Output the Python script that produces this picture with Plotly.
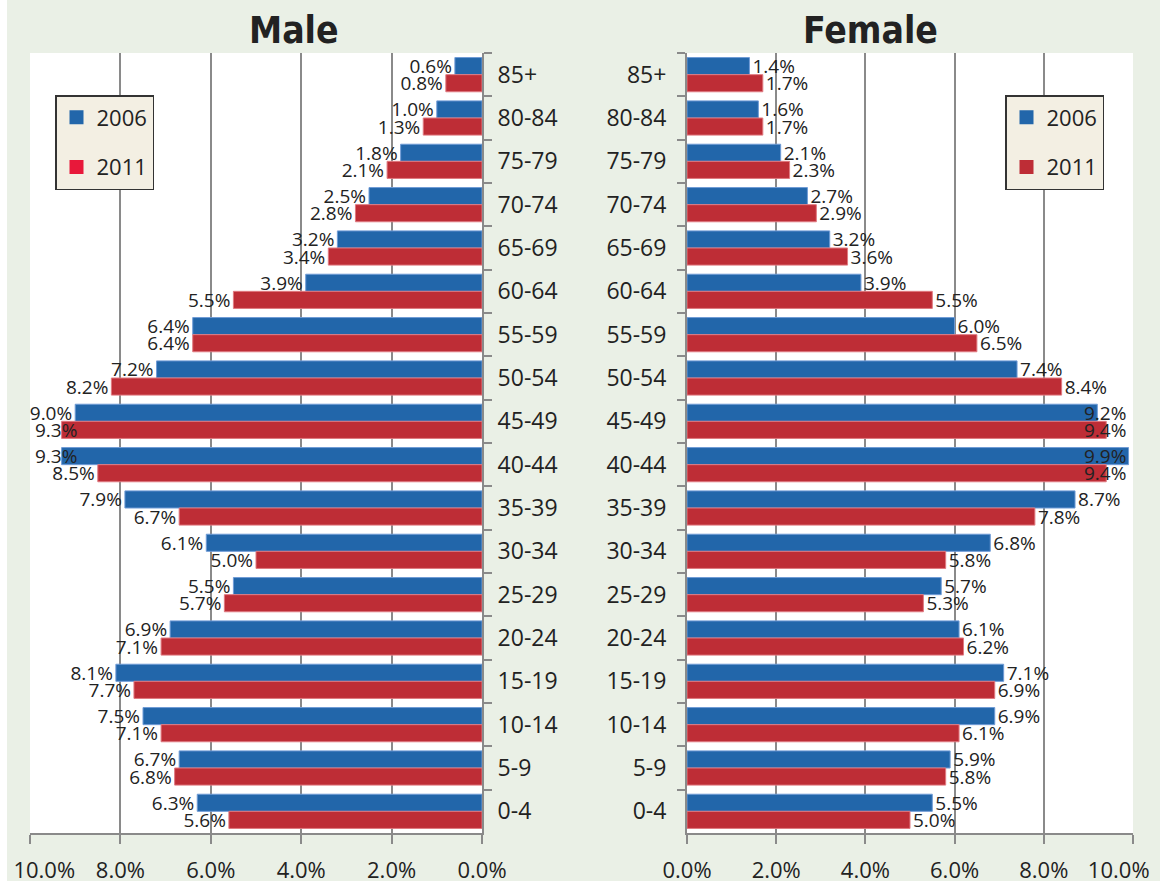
import plotly.graph_objects as go

# ---- data ----
age_groups = ["85+", "80-84", "75-79", "70-74", "65-69", "60-64", "55-59", "50-54",
              "45-49", "40-44", "35-39", "30-34", "25-29", "20-24", "15-19", "10-14",
              "5-9", "0-4"]
male_2006 = [0.6, 1.0, 1.8, 2.5, 3.2, 3.9, 6.4, 7.2, 9.0, 9.3, 7.9, 6.1, 5.5, 6.9, 8.1, 7.5, 6.7, 6.3]
male_2011 = [0.8, 1.3, 2.1, 2.8, 3.4, 5.5, 6.4, 8.2, 9.3, 8.5, 6.7, 5.0, 5.7, 7.1, 7.7, 7.1, 6.8, 5.6]
female_2006 = [1.4, 1.6, 2.1, 2.7, 3.2, 3.9, 6.0, 7.4, 9.2, 9.9, 8.7, 6.8, 5.7, 6.1, 7.1, 6.9, 5.9, 5.5]
female_2011 = [1.7, 1.7, 2.3, 2.9, 3.6, 5.5, 6.5, 8.4, 9.4, 9.4, 7.8, 5.8, 5.3, 6.2, 6.9, 6.1, 5.8, 5.0]
years = ["2006", "2011"]
x_ticks = [0, 2, 4, 6, 8, 10]
x_max = 10

# ---- style ----
BLUE = "#2266aa"
RED = "#be2d36"
RED_BRIGHT = "#e8183a"
BLUE_EDGE = "#6f9bd6"
RED_EDGE = "#e07a80"
GRID = "#8a8a8a"
TEXT = "#222222"
BG = "#eaf0e6"
FONT = "Open Sans"
TITLE_FONT = "Liberation Sans Narrow, DejaVu Sans Condensed"
CLAMP = 9.05
NB = "\u00a0" * 5  # keeps the outermost tick label inside the chart edge

W, H = 1160, 881
def px_x(p): return p / W
def px_y(p): return (H - p) / H

ydom = [px_y(833), px_y(53)]

fig = go.Figure()

def labels(vals):
    return [("" if v > CLAMP else f"{v:.1f}%") for v in vals]

series = [
    (male_2006, "x", "y", BLUE, BLUE_EDGE),
    (male_2011, "x", "y", RED, RED_EDGE),
    (female_2006, "x2", "y2", BLUE, BLUE_EDGE),
    (female_2011, "x2", "y2", RED, RED_EDGE),
]
for i, (vals, xa, ya, col, edge) in enumerate(series):
    fig.add_trace(go.Bar(
        y=age_groups, x=vals, orientation="h", xaxis=xa, yaxis=ya,
        marker=dict(color=col, line=dict(color=edge, width=1)),
        text=labels(vals), textposition="outside", constraintext="none",
        outsidetextfont=dict(family=FONT, size=19, color=TEXT),
        cliponaxis=False, showlegend=False, hoverinfo="skip",
        offsetgroup=str(i % 2),
    ))

# clamped labels (too long to fit outside the bar) pinned to the axis edge
annotations = []
for vals, xa, ya, shift in [(male_2006, "x", "y", 8.5), (male_2011, "x", "y", -8.5),
                            (female_2006, "x2", "y2", 8.5), (female_2011, "x2", "y2", -8.5)]:
    for g, v in zip(age_groups, vals):
        if v > CLAMP:
            annotations.append(dict(
                x=x_max, y=g, xref=xa, yref=ya, text=f"{v:.1f}%", showarrow=False,
                xanchor="left" if xa == "x" else "right", yshift=shift,
                xshift=3 if xa == "x" else -5,
                font=dict(family=FONT, size=19, color=TEXT)))

# legend entries
for legend, red in [("legend", RED_BRIGHT), ("legend2", RED)]:
    for yr, col in zip(years, [BLUE, red]):
        fig.add_trace(go.Scatter(
            x=[None], y=[None], mode="markers", name=yr, legend=legend,
            marker=dict(symbol="square", size=14, color=col),
            legendgroup=legend + yr, xaxis="x", yaxis="y", hoverinfo="skip"))

annotations += [
    dict(x=px_x(294), y=px_y(30), xref="paper", yref="paper", text="<b>Male</b>",
         showarrow=False, xanchor="center", yanchor="middle",
         font=dict(family=TITLE_FONT, size=37, color=TEXT)),
    dict(x=px_x(870), y=px_y(30), xref="paper", yref="paper", text="<b>Female</b>",
         showarrow=False, xanchor="center", yanchor="middle",
         font=dict(family=TITLE_FONT, size=37, color=TEXT)),
]

male_ticktext = [(NB + f"{t:.1f}%") if t == x_max else f"{t:.1f}%" for t in x_ticks]
female_ticktext = [(f"{t:.1f}%" + NB) if t == x_max else f"{t:.1f}%" for t in x_ticks]

xcommon = dict(
    tickvals=x_ticks,
    showgrid=True, gridcolor=GRID, gridwidth=2, zeroline=False,
    showline=True, linecolor=GRID, linewidth=2,
    ticks="outside", ticklen=9, tickwidth=2, tickcolor=GRID,
    tickfont=dict(family=FONT, size=22, color=TEXT), ticklabelstandoff=8,
    ticklabeloverflow="allow",
    fixedrange=True, automargin=False,
)
ycommon = dict(
    type="category", categoryorder="array", categoryarray=age_groups,
    autorange="reversed", showgrid=False, zeroline=False,
    showline=True, linecolor=GRID, linewidth=2,
    ticks="outside", tickson="boundaries", ticklen=8, tickwidth=2, tickcolor=GRID,
    tickfont=dict(family=FONT, size=23, color=TEXT), domain=ydom, fixedrange=True,
    automargin=False,
)

fig.update_layout(
    width=W, height=H, margin=dict(l=0, r=0, t=0, b=0, autoexpand=False),
    paper_bgcolor=BG, plot_bgcolor="white",
    barmode="group", bargap=0.21, bargroupgap=0,
    xaxis=dict(domain=[px_x(30), px_x(482)], range=[x_max, 0], anchor="y",
               ticktext=male_ticktext, **xcommon),
    xaxis2=dict(domain=[px_x(687), px_x(1133)], range=[0, x_max], anchor="y2",
                ticktext=female_ticktext, **xcommon),
    yaxis=dict(anchor="x", side="right", ticklabelstandoff=9, **ycommon),
    yaxis2=dict(anchor="x2", side="left", ticklabelstandoff=14, **ycommon),
    legend=dict(x=px_x(55), y=px_y(95), xanchor="left", yanchor="top",
                bgcolor="#f3efe3", bordercolor="#333333", borderwidth=1.5,
                font=dict(family=FONT, size=22, color=TEXT), tracegroupgap=18),
    legend2=dict(x=px_x(1005), y=px_y(95), xanchor="left", yanchor="top",
                 bgcolor="#f3efe3", bordercolor="#333333", borderwidth=1.5,
                 font=dict(family=FONT, size=22, color=TEXT), tracegroupgap=18),
    annotations=annotations,
    shapes=[dict(type="rect", xref="paper", yref="paper", x0=0, x1=px_x(7), y0=0, y1=1,
                 fillcolor="white", line=dict(width=0), layer="below")],
)

fig.write_html("out.html")
